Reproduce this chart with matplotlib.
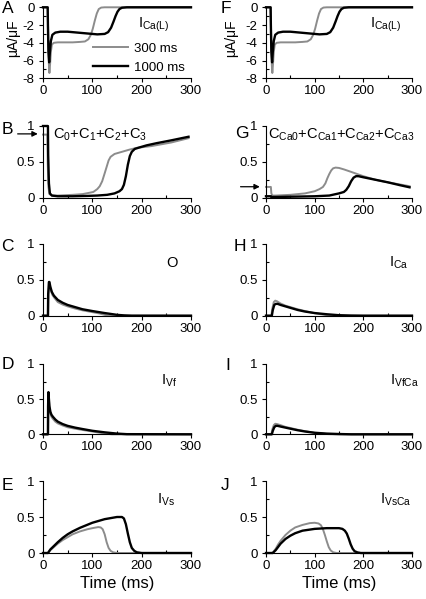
import matplotlib
matplotlib.use("Agg")
import matplotlib.pyplot as plt
from matplotlib.ticker import MultipleLocator, FormatStrFormatter

plt.rcParams['font.family'] = ['Liberation Sans', 'DejaVu Sans']
plt.rcParams['mathtext.default'] = 'regular'
plt.rcParams['axes.unicode_minus'] = False

GRAY = '#8c8c8c'
BLACK = '#000000'

# ---- data (time in ms) ----
# A / F : I_Ca(L) in uA/uF
ical_t_1000 = [0, 9.5, 10, 11, 12.5, 14, 16, 19, 25, 35, 50, 70, 90, 110, 125, 132, 138, 143, 147, 151, 155, 160, 170, 300]
ical_1000 = [0, 0, -2.0, -5.0, -6.2, -5.0, -3.8, -3.1, -2.85, -2.75, -2.75, -2.85, -2.95, -3.05, -3.0, -2.8, -2.3, -1.6, -1.0, -0.5, -0.2, -0.05, 0, 0]
ical_t_300 = [0, 9.5, 10.5, 12, 13, 14.5, 16, 18, 22, 30, 45, 60, 75, 85, 92, 97, 101, 105, 109, 113, 118, 125, 140, 300]
ical_300 = [0, 0, -3.0, -6.5, -7.4, -6.3, -5.0, -4.2, -4.0, -3.95, -3.95, -3.95, -3.9, -3.85, -3.6, -3.1, -2.4, -1.5, -0.7, -0.2, -0.03, 0, 0, 0]

# B : C0+C1+C2+C3
closed_t_1000 = [0, 10, 10.5, 12, 14, 18, 30, 60, 90, 110, 130, 145, 155, 160, 164, 168, 172, 176, 180, 186, 195, 210, 230, 260, 295]
closed_1000 = [1.0, 1.0, 0.6, 0.2, 0.06, 0.03, 0.02, 0.02, 0.025, 0.03, 0.04, 0.06, 0.09, 0.12, 0.18, 0.30, 0.46, 0.58, 0.64, 0.68, 0.70, 0.73, 0.76, 0.80, 0.85]
closed_t_300 = [0, 9, 9.5, 11, 13, 18, 30, 60, 80, 95, 102, 110, 115, 120, 125, 129, 133, 137, 145, 160, 175, 190, 220, 260, 295]
closed_300 = [0.88, 0.88, 0.5, 0.15, 0.05, 0.03, 0.03, 0.04, 0.05, 0.07, 0.08, 0.12, 0.16, 0.23, 0.34, 0.43, 0.52, 0.57, 0.61, 0.64, 0.67, 0.695, 0.72, 0.77, 0.83]

# G : CCa0+CCa1+CCa2+CCa3
cca_t_1000 = [0, 10, 11, 20, 60, 100, 130, 150, 160, 165, 170, 175, 180, 185, 190, 200, 225, 250, 275, 295]
cca_1000 = [0.02, 0.02, 0.01, 0.01, 0.015, 0.02, 0.03, 0.06, 0.08, 0.11, 0.16, 0.23, 0.28, 0.30, 0.30, 0.285, 0.25, 0.215, 0.175, 0.145]
cca_t_300 = [0, 10, 11, 13, 20, 50, 80, 100, 110, 117, 122, 126, 130, 134, 138, 143, 150, 160, 175, 200, 225, 250, 275, 295]
cca_300 = [0.15, 0.15, 0.06, 0.03, 0.03, 0.04, 0.06, 0.09, 0.12, 0.15, 0.20, 0.27, 0.33, 0.38, 0.41, 0.42, 0.415, 0.395, 0.36, 0.30, 0.25, 0.215, 0.185, 0.16]

# C : O
o_t_1000 = [0, 10, 10.5, 12, 13, 15, 18, 22, 30, 40, 50, 65, 80, 100, 125, 150, 165, 180, 300]
o_1000 = [0, 0, 0.3, 0.47, 0.47, 0.40, 0.33, 0.28, 0.22, 0.18, 0.15, 0.12, 0.09, 0.065, 0.037, 0.012, 0.004, 0, 0]
o_t_300 = [0, 10.5, 11, 12.5, 14, 16, 19, 23, 30, 40, 50, 65, 80, 100, 115, 125, 135, 300]
o_300 = [0, 0, 0.3, 0.44, 0.42, 0.35, 0.29, 0.25, 0.19, 0.155, 0.13, 0.10, 0.075, 0.05, 0.03, 0.012, 0.002, 0]

# H : I_Ca
ica_t_1000 = [0, 12, 14, 17, 20, 24, 30, 40, 50, 65, 80, 100, 125, 150, 175, 200, 300]
ica_1000 = [0, 0, 0.08, 0.15, 0.165, 0.165, 0.15, 0.13, 0.11, 0.08, 0.058, 0.037, 0.02, 0.007, 0.002, 0, 0]
ica_t_300 = [0, 11, 13, 16, 19, 23, 30, 40, 50, 65, 80, 100, 115, 125, 140, 300]
ica_300 = [0, 0, 0.1, 0.19, 0.21, 0.2, 0.17, 0.14, 0.12, 0.09, 0.065, 0.035, 0.018, 0.008, 0, 0]

# D : I_Vf
ivf_t_1000 = [0, 10, 10.3, 11, 12, 13, 15, 17, 20, 25, 30, 40, 50, 65, 80, 100, 125, 150, 170, 300]
ivf_1000 = [0, 0, 0.4, 0.6, 0.5, 0.4, 0.32, 0.28, 0.25, 0.21, 0.18, 0.145, 0.12, 0.095, 0.075, 0.05, 0.028, 0.01, 0.002, 0]
ivf_t_300 = [0, 10.5, 11, 12, 13, 15, 17, 20, 25, 30, 40, 50, 65, 80, 100, 115, 125, 140, 300]
ivf_300 = [0, 0, 0.35, 0.5, 0.38, 0.29, 0.25, 0.22, 0.18, 0.155, 0.125, 0.10, 0.08, 0.062, 0.04, 0.022, 0.01, 0, 0]

# I : I_VfCa
ivfca_t_1000 = [0, 12, 14, 17, 20, 24, 30, 40, 50, 65, 80, 100, 125, 150, 175, 300]
ivfca_1000 = [0, 0, 0.05, 0.1, 0.12, 0.12, 0.11, 0.095, 0.08, 0.058, 0.04, 0.022, 0.01, 0.004, 0, 0]
ivfca_t_300 = [0, 11, 13, 16, 19, 23, 30, 40, 50, 65, 80, 100, 115, 125, 140, 300]
ivfca_300 = [0, 0, 0.07, 0.13, 0.15, 0.145, 0.13, 0.105, 0.09, 0.065, 0.045, 0.02, 0.01, 0.004, 0, 0]

# E : I_Vs
ivs_t_1000 = [0, 10, 15, 20, 30, 40, 50, 60, 75, 100, 125, 150, 160, 164, 168, 172, 176, 180, 185, 190, 200, 300]
ivs_1000 = [0, 0, 0.05, 0.083, 0.15, 0.21, 0.26, 0.30, 0.35, 0.42, 0.47, 0.50, 0.50, 0.48, 0.40, 0.27, 0.15, 0.07, 0.03, 0.01, 0, 0]
ivs_t_300 = [0, 10, 15, 20, 30, 40, 50, 60, 75, 90, 100, 112, 117, 121, 125, 129, 133, 137, 142, 150, 300]
ivs_300 = [0, 0, 0.04, 0.07, 0.13, 0.18, 0.22, 0.26, 0.30, 0.33, 0.345, 0.36, 0.355, 0.33, 0.26, 0.15, 0.07, 0.03, 0.01, 0, 0]

# J : I_VsCa
ivsca_t_1000 = [0, 14, 17, 20, 25, 30, 40, 50, 60, 75, 100, 125, 150, 157, 162, 166, 170, 174, 178, 182, 188, 195, 300]
ivsca_1000 = [0, 0, 0.02, 0.04, 0.085, 0.13, 0.195, 0.24, 0.275, 0.31, 0.335, 0.345, 0.345, 0.335, 0.31, 0.27, 0.2, 0.12, 0.06, 0.025, 0.008, 0, 0]
ivsca_t_300 = [0, 12, 15, 20, 25, 30, 40, 50, 60, 75, 90, 100, 108, 113, 117, 121, 125, 129, 133, 138, 145, 300]
ivsca_300 = [0, 0, 0.015, 0.06, 0.12, 0.17, 0.25, 0.31, 0.355, 0.39, 0.415, 0.42, 0.41, 0.385, 0.33, 0.25, 0.16, 0.08, 0.035, 0.01, 0, 0]

W, H = 426, 599
fig = plt.figure(figsize=(W / 100, H / 100), dpi=100)

# axes boxes in pixels: (left, right) per column, (top, bottom) per row
cols = [(43, 191), (266, 412)]
rows = [(7.3, 78.3), (126, 197.7), (244, 315.7), (364, 434.3), (481, 553)]


def make_ax(col, row):
    l, r = cols[col]
    t, b = rows[row]
    ax = fig.add_axes([l / W, 1 - b / H, (r - l) / W, (b - t) / H])
    for s in ['top', 'right']:
        ax.spines[s].set_visible(False)
    ax.set_xlim(0, 300)
    ax.xaxis.set_major_locator(MultipleLocator(100))
    ax.xaxis.set_minor_locator(MultipleLocator(50))
    ax.tick_params(which='major', direction='out', length=3, width=0.8, labelsize=9.5, pad=2)
    ax.tick_params(which='minor', direction='in', length=2.5, width=0.8)
    ax.tick_params(axis='y', which='major', pad=3)
    return ax


def draw(ax, t3, v3, t10, v10):
    ax.plot(t3, v3, color=GRAY, lw=1.4, clip_on=False, solid_joinstyle='round')
    ax.plot(t10, v10, color=BLACK, lw=1.7, clip_on=False, solid_joinstyle='round')


def frac_axis(ax):
    ax.set_ylim(0, 1)
    ax.yaxis.set_major_locator(MultipleLocator(0.5))
    ax.yaxis.set_minor_locator(MultipleLocator(0.25))
    ax.yaxis.set_major_formatter(FormatStrFormatter('%g'))


# A and F
for col in range(2):
    ax = make_ax(col, 0)
    draw(ax, ical_t_300, ical_300, ical_t_1000, ical_1000)
    ax.set_ylim(-8, 0)
    ax.yaxis.set_major_locator(MultipleLocator(2))
    ax.yaxis.set_minor_locator(MultipleLocator(1))
    ax.set_ylabel('μA/μF', fontsize=10)
    ax.yaxis.set_label_coords(-0.155 if col == 0 else -0.19, 0.57)
    ax.text(193 if col == 0 else 214, -2.33, '$I_{Ca(L)}$', fontsize=10.5, va='baseline')
    if col == 0:
        ax.plot([], [], color=GRAY, lw=1.4, label='300 ms')
        ax.plot([], [], color=BLACK, lw=1.7, label='1000 ms')
        h, lab = ax.get_legend_handles_labels()
        ax.legend(h[-2:], lab[-2:], loc='upper left', bbox_to_anchor=(0.34, 0.50),
                  frameon=False, fontsize=9.5, handlelength=2.6, handletextpad=0.5,
                  labelspacing=0.5, borderpad=0, borderaxespad=0)

# B
ax = make_ax(0, 1)
draw(ax, closed_t_300, closed_300, closed_t_1000, closed_1000)
frac_axis(ax)
ax.text(20, 0.83, '$C_0$+$C_1$+$C_2$+$C_3$', fontsize=10.5, va='baseline')
ax.annotate('', xy=(-5, 0.89), xytext=(-57, 0.89), annotation_clip=False,
            arrowprops=dict(arrowstyle='-|>', color='k', lw=0.9, mutation_scale=8))

# G
ax = make_ax(1, 1)
draw(ax, cca_t_300, cca_300, cca_t_1000, cca_1000)
frac_axis(ax)
ax.text(4, 0.83, '$C_{Ca0}$+$C_{Ca1}$+$C_{Ca2}$+$C_{Ca3}$', fontsize=10.5, va='baseline')
ax.annotate('', xy=(-7, 0.153), xytext=(-58, 0.153), annotation_clip=False,
            arrowprops=dict(arrowstyle='-|>', color='k', lw=0.9, mutation_scale=8))

# C, H
ax = make_ax(0, 2)
draw(ax, o_t_300, o_300, o_t_1000, o_1000)
frac_axis(ax)
ax.text(249, 0.68, 'O', fontsize=10.5, va='baseline')

ax = make_ax(1, 2)
draw(ax, ica_t_300, ica_300, ica_t_1000, ica_1000)
frac_axis(ax)
ax.text(253, 0.68, '$I_{Ca}$', fontsize=10.5, va='baseline')

# D, I
ax = make_ax(0, 3)
draw(ax, ivf_t_300, ivf_300, ivf_t_1000, ivf_1000)
frac_axis(ax)
ax.text(239, 0.70, '$I_{Vf}$', fontsize=10.5, va='baseline')

ax = make_ax(1, 3)
draw(ax, ivfca_t_300, ivfca_300, ivfca_t_1000, ivfca_1000)
frac_axis(ax)
ax.text(255, 0.70, '$I_{VfCa}$', fontsize=10.5, va='baseline')

# E, J
ax = make_ax(0, 4)
draw(ax, ivs_t_300, ivs_300, ivs_t_1000, ivs_1000)
frac_axis(ax)
ax.text(231, 0.69, '$I_{Vs}$', fontsize=10.5, va='baseline')
ax.set_xlabel('Time (ms)', fontsize=12, labelpad=3)

ax = make_ax(1, 4)
draw(ax, ivsca_t_300, ivsca_300, ivsca_t_1000, ivsca_1000)
frac_axis(ax)
ax.text(234, 0.69, '$I_{VsCa}$', fontsize=10.5, va='baseline')
ax.set_xlabel('Time (ms)', fontsize=12, labelpad=3)

# panel letters (pixel positions of top-left corners)
letters = ['A', 'B', 'C', 'D', 'E', 'F', 'G', 'H', 'I', 'J']
letter_x = [2, 2, 1, 2, 2, 221, 235, 234, 225, 221]
letter_y = [1, 122, 239, 357, 478, 1, 126, 239, 358, 478]
for lt, lx, ly in zip(letters, letter_x, letter_y):
    fig.text(lx / W, 1 - ly / H, lt, fontsize=12.5, ha='left', va='top')

fig.savefig('out.png', dpi=100)
